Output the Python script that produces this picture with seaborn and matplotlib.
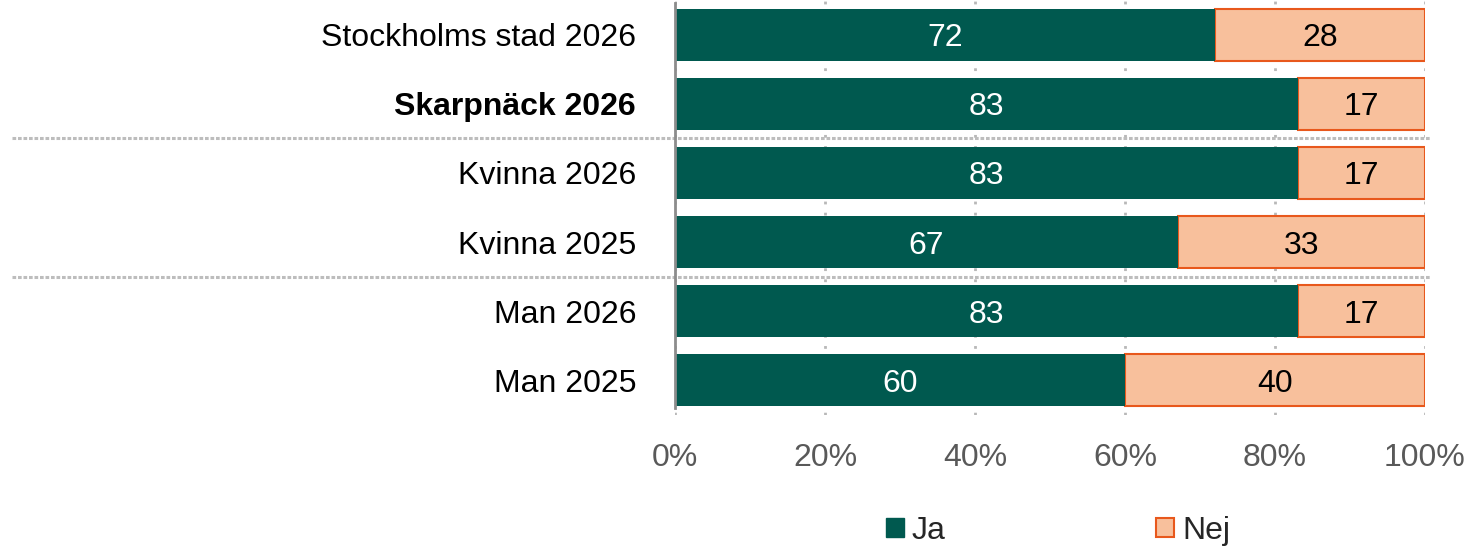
import matplotlib
matplotlib.use("Agg")
import matplotlib.pyplot as plt
import seaborn as sns
import pandas as pd
from matplotlib.patches import Patch

groups = ["Stockholms stad 2026", "Skarpnäck 2026", "Kvinna 2026",
          "Kvinna 2025", "Man 2026", "Man 2025"]
ja = [72, 83, 83, 67, 83, 60]
nej = [28, 17, 17, 33, 17, 40]
xticks = [0, 20, 40, 60, 80, 100]

green = "#00594F"
orange_fill = "#F8C09C"
orange_edge = "#E8581C"

sns.set_style("white")
plt.rcParams["font.family"] = ["Liberation Sans", "DejaVu Sans"]

df = pd.DataFrame({"group": groups, "ja": ja, "nej": nej})
df["total"] = df["ja"] + df["nej"]

fig = plt.figure(figsize=(14.78, 5.5), dpi=100)
ax = fig.add_axes([675 / 1478, 1 - 415 / 550, 750 / 1478, 415 / 550])

# orange segment: draw full bars, then shift start to the end of "Ja"
sns.barplot(data=df, y="group", x="total", color=orange_fill, orient="h",
            width=0.75, edgecolor=orange_edge, linewidth=1.5, saturation=1,
            ax=ax, zorder=2)
nej_bars = ax.containers[0]
for p, j, n in zip(nej_bars, ja, nej):
    p.set_x(j)
    p.set_width(n)

sns.barplot(data=df, y="group", x="ja", color=green, orient="h",
            width=0.75, linewidth=0, saturation=1, ax=ax, zorder=3)
ja_bars = ax.containers[1]

texts = ax.bar_label(ja_bars, labels=[str(v) for v in ja], label_type="center",
                     color="white", fontsize=23)
texts += ax.bar_label(nej_bars, labels=[str(v) for v in nej], label_type="center",
                      color="black", fontsize=23)
for t in texts:
    t.set_va("center_baseline")

ax.set_xlim(0, 100)
ax.set_ylim(len(groups) - 0.5, -0.5)
ax.set_xticks(xticks)
ax.set_xticklabels([f"{t}%" for t in xticks], color="#595959", fontsize=23)
ax.tick_params(axis="x", length=0, pad=20)
ax.tick_params(axis="y", length=0, pad=28, labelsize=23)
for lab in ax.get_yticklabels():
    lab.set_color("black")
    if lab.get_text() == "Skarpnäck 2026":
        lab.set_fontweight("bold")
ax.set_xlabel("")
ax.set_ylabel("")

ax.grid(axis="x", color="#b8b8b8", linestyle=(0, (1, 3)), linewidth=2)
ax.grid(axis="y", visible=False)
ax.set_axisbelow(True)
for s in ["top", "right", "bottom"]:
    ax.spines[s].set_visible(False)
ax.spines["left"].set_color("#8c8c8c")
ax.spines["left"].set_linewidth(2)
ax.spines["left"].set_zorder(5)
ax.spines["left"].set_bounds(len(groups) - 0.6, -0.45)

# group separators
trans = ax.get_yaxis_transform()
for ysep in [1.5, 3.5]:
    ax.plot([-0.884, 1.007], [ysep, ysep], transform=trans, clip_on=False,
            color="#bdbdbd", linewidth=2.2, linestyle=(0, (1.2, 0.6)), zorder=4)

handles = [Patch(facecolor=green, edgecolor=green, label="Ja"),
           Patch(facecolor=orange_fill, edgecolor=orange_edge, linewidth=1.5,
                 label="Nej")]
fig.legend(handles=handles, loc="center", bbox_to_anchor=(1058 / 1478, 1 - 531 / 550),
           ncol=2, frameon=False, fontsize=23, handlelength=0.55,
           handleheight=0.55, handletextpad=0.25, columnspacing=6.6)

fig.savefig("out.png", dpi=100)
